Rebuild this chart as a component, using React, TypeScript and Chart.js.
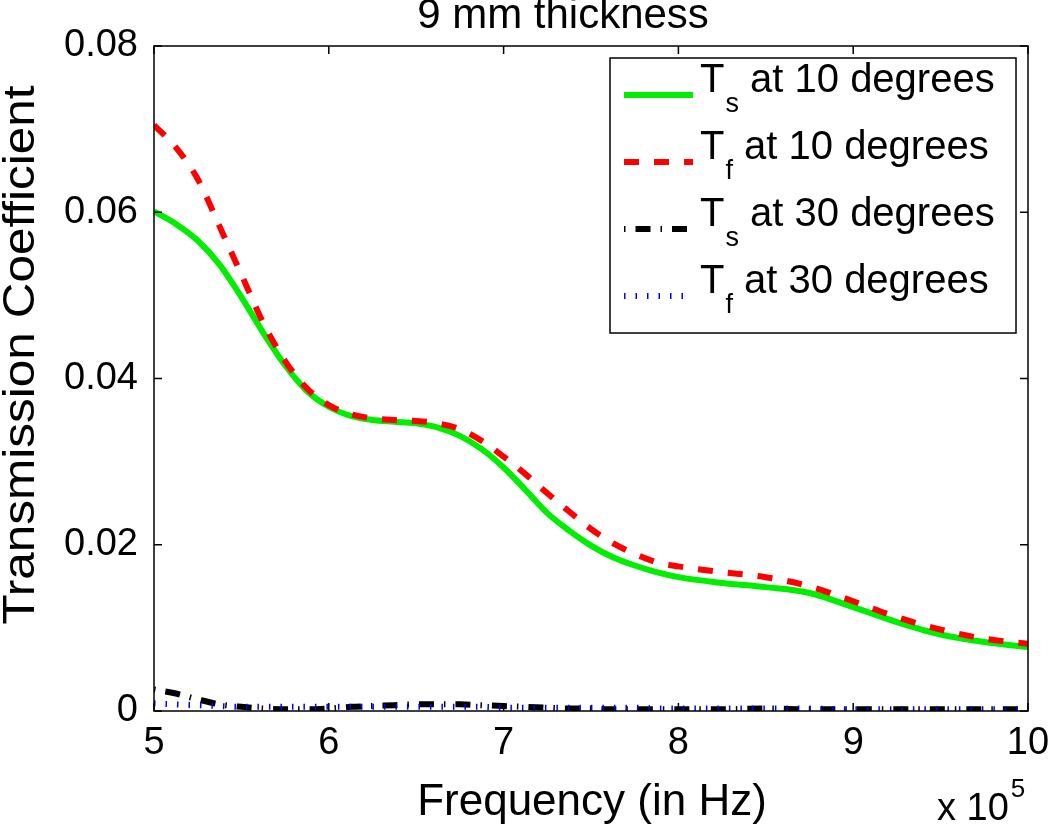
import React, { useEffect, useRef } from "react";
import { Chart, registerables } from "chart.js";

Chart.register(...registerables);

const FONT = '"Liberation Sans", Arial, Helvetica, sans-serif';

// Frequency in units of 10^5 Hz
const freq = [
  5, 5.125, 5.25, 5.375, 5.5, 5.625, 5.75, 5.875, 6, 6.125, 6.25, 6.375, 6.5, 6.625, 6.75, 6.875,
  7, 7.125, 7.25, 7.375, 7.5, 7.625, 7.75, 7.875, 8, 8.25, 8.5, 8.75, 9, 9.25, 9.5, 9.75, 10,
];

const tsAt10 = [
  0.0601, 0.0586, 0.0566, 0.0537, 0.0498, 0.0455, 0.0416, 0.0385, 0.0366, 0.0355, 0.035, 0.0348,
  0.0346, 0.0341, 0.0331, 0.0315, 0.0293, 0.0266, 0.0238, 0.0217, 0.0199, 0.0185, 0.0175, 0.0167,
  0.0161, 0.0154, 0.0149, 0.0142, 0.0125, 0.0107, 0.0092, 0.0083, 0.0077,
];

const tfAt10 = [
  0.0705, 0.0678, 0.064, 0.0583, 0.0525, 0.0467, 0.0421, 0.0388, 0.0368, 0.0357, 0.0352, 0.035,
  0.0349, 0.0346, 0.0339, 0.0325, 0.0306, 0.0285, 0.0262, 0.024, 0.0219, 0.0202, 0.0189, 0.0179,
  0.0174, 0.0167, 0.0161, 0.015, 0.0132, 0.0113, 0.0098, 0.0087, 0.0081,
];

const tsAt30 = [
  0.0026, 0.0021, 0.0014, 0.0008, 0.0005, 0.0003, 0.0002, 0.0002, 0.0003, 0.0005, 0.0006, 0.0007,
  0.0008, 0.0008, 0.0008, 0.0007, 0.0006, 0.0005, 0.0004, 0.0003, 0.0003, 0.0002, 0.0002, 0.0002,
  0.0002, 0.0002, 0.0003, 0.0002, 0.0002, 0.0002, 0.0002, 0.0002, 0.0002,
];

const tfAt30 = [
  0.0009, 0.0008, 0.0007, 0.0006, 0.0005, 0.0005, 0.0005, 0.0005, 0.0005, 0.0005, 0.0005, 0.0005,
  0.0005, 0.0005, 0.0005, 0.0005, 0.0004, 0.0004, 0.0004, 0.0004, 0.0004, 0.0004, 0.0004, 0.0003,
  0.0003, 0.0003, 0.0003, 0.0003, 0.0002, 0.0002, 0.0002, 0.0002, 0.0002,
];

const xTickValues = [5, 6, 7, 8, 9, 10];
const yTickValues = [0, 0.02, 0.04, 0.06, 0.08];

const titleText = "9 mm thickness";
const xLabelText = "Frequency (in Hz)";
const yLabelText = "Transmission Coefficient";
const multiplierBase = "x 10";
const multiplierExp = "5";

const legendMain = ["T", "T", "T", "T"];
const legendSub = ["s", "f", "s", "f"];
const legendRest = [" at 10 degrees", " at 10 degrees", " at 30 degrees", " at 30 degrees"];

const seriesColors = ["#00ee00", "#ff0000", "#000000", "#0000ff"];
const seriesDash: number[][] = [[], [15, 15], [1.5, 10, 15, 10], [1.5, 10]];

const toPoints = (ys: number[]) => ys.map((y, i) => ({ x: freq[i], y }));

const decorPlugin = {
  id: "matlabDecor",
  afterDatasetsDraw(chart: any) {
    const { ctx, chartArea } = chart;
    const { left, right, top, bottom } = chartArea;
    const xs = chart.scales.x;
    const ys = chart.scales.y;
    ctx.save();
    ctx.strokeStyle = "#000";
    ctx.lineWidth = 1.5;
    ctx.setLineDash([]);
    ctx.strokeRect(left, top, right - left, bottom - top);
    const tl = 8;
    ctx.beginPath();
    xTickValues.forEach((v) => {
      const px = xs.getPixelForValue(v);
      ctx.moveTo(px, bottom);
      ctx.lineTo(px, bottom - tl);
      ctx.moveTo(px, top);
      ctx.lineTo(px, top + tl);
    });
    yTickValues.forEach((v) => {
      const py = ys.getPixelForValue(v);
      ctx.moveTo(left, py);
      ctx.lineTo(left + tl, py);
      ctx.moveTo(right, py);
      ctx.lineTo(right - tl, py);
    });
    ctx.stroke();
    ctx.restore();
  },
  afterDraw(chart: any) {
    const { ctx, chartArea } = chart;
    const { left, right, top, bottom } = chartArea;
    ctx.save();
    ctx.fillStyle = "#000";
    ctx.textBaseline = "alphabetic";

    // title
    ctx.font = `42px ${FONT}`;
    ctx.textAlign = "center";
    ctx.fillText(titleText, 563, 28);

    // x label
    ctx.font = `44px ${FONT}`;
    ctx.fillText(xLabelText, (left + right) / 2 + 1, bottom + 104);

    // multiplier
    ctx.textAlign = "left";
    ctx.font = `38px ${FONT}`;
    ctx.fillText(multiplierBase, right - 91, bottom + 109);
    const bw = ctx.measureText(multiplierBase).width;
    ctx.font = `26px ${FONT}`;
    ctx.fillText(multiplierExp, right - 91 + bw + 2, bottom + 86);

    // y label
    ctx.save();
    ctx.translate(34, 355);
    ctx.rotate(-Math.PI / 2);
    ctx.scale(1.1, 1);
    ctx.textAlign = "center";
    ctx.font = `45px ${FONT}`;
    ctx.fillText(yLabelText, 0, 0);
    ctx.restore();

    // legend
    const bxW = 406;
    const bxH = 275;
    const bx = right - 12 - bxW;
    const by = top + 12;
    ctx.fillStyle = "#fff";
    ctx.fillRect(bx, by, bxW, bxH);
    ctx.strokeStyle = "#000";
    ctx.lineWidth = 1.5;
    ctx.strokeRect(bx, by, bxW, bxH);
    for (let i = 0; i < 4; i++) {
      const rowY = by + 37 + i * 67;
      ctx.save();
      ctx.strokeStyle = seriesColors[i];
      ctx.lineWidth = 6;
      ctx.lineCap = "butt";
      ctx.setLineDash(seriesDash[i]);
      ctx.beginPath();
      ctx.moveTo(bx + 14, rowY);
      ctx.lineTo(bx + 83, rowY);
      ctx.stroke();
      ctx.restore();

      ctx.fillStyle = "#000";
      ctx.textAlign = "left";
      let cx = bx + 90;
      const base = rowY - 3;
      ctx.font = `40px ${FONT}`;
      ctx.fillText(legendMain[i], cx, base);
      cx += ctx.measureText(legendMain[i]).width + 1;
      ctx.font = `27px ${FONT}`;
      ctx.fillText(legendSub[i], cx, base + 20);
      cx += ctx.measureText(legendSub[i]).width;
      ctx.font = `40px ${FONT}`;
      ctx.fillText(legendRest[i], cx, base);
    }
    ctx.restore();
  },
};

export default function App() {
  const canvasRef = useRef<HTMLCanvasElement | null>(null);

  useEffect(() => {
    if (!canvasRef.current) return;
    const series = [tsAt10, tfAt10, tsAt30, tfAt30];
    const orders = [4, 3, 2, 1];
    const chart = new Chart(canvasRef.current, {
      type: "line",
      data: {
        datasets: series.map((s, i) => ({
          label: `${legendMain[i]}${legendSub[i]}${legendRest[i]}`,
          data: toPoints(s),
          borderColor: seriesColors[i],
          backgroundColor: seriesColors[i],
          borderWidth: 6,
          borderDash: seriesDash[i],
          borderCapStyle: "butt" as const,
          pointRadius: 0,
          fill: false,
          cubicInterpolationMode: "monotone" as const,
          clip: 0,
          order: orders[i],
        })),
      },
      options: {
        animation: false,
        responsive: true,
        maintainAspectRatio: false,
        layout: { padding: { top: 46, right: 22, left: 0, bottom: 0 } },
        plugins: {
          legend: { display: false },
          tooltip: { enabled: false },
          title: { display: false },
        },
        scales: {
          x: {
            type: "linear",
            min: 5,
            max: 10,
            afterBuildTicks: (s: any) => {
              s.ticks = xTickValues.map((v) => ({ value: v }));
            },
            ticks: {
              color: "#000",
              font: { family: FONT, size: 38 },
              padding: 10,
              maxRotation: 0,
              callback: (v: any) => String(v),
            },
            grid: { display: false, drawTicks: false },
            border: { display: false },
            afterFit: (s: any) => {
              s.height = 116;
              s.paddingLeft = 0;
              s.paddingRight = 0;
            },
          },
          y: {
            type: "linear",
            min: 0,
            max: 0.08,
            afterBuildTicks: (s: any) => {
              s.ticks = yTickValues.map((v) => ({ value: v }));
            },
            ticks: {
              color: "#000",
              font: { family: FONT, size: 38 },
              padding: 16,
              callback: (v: any) => (Number(v) === 0 ? "0" : Number(v).toFixed(2)),
            },
            grid: { display: false, drawTicks: false },
            border: { display: false },
            afterFit: (s: any) => {
              s.width = 154;
              s.paddingTop = 0;
              s.paddingBottom = 0;
            },
          },
        },
      },
      plugins: [decorPlugin],
    });
    return () => chart.destroy();
  }, []);

  return (
    <div
      style={{
        position: "fixed",
        left: 0,
        top: 0,
        width: 1050,
        height: 827,
        background: "#fff",
      }}
    >
      <canvas ref={canvasRef} />
    </div>
  );
}
